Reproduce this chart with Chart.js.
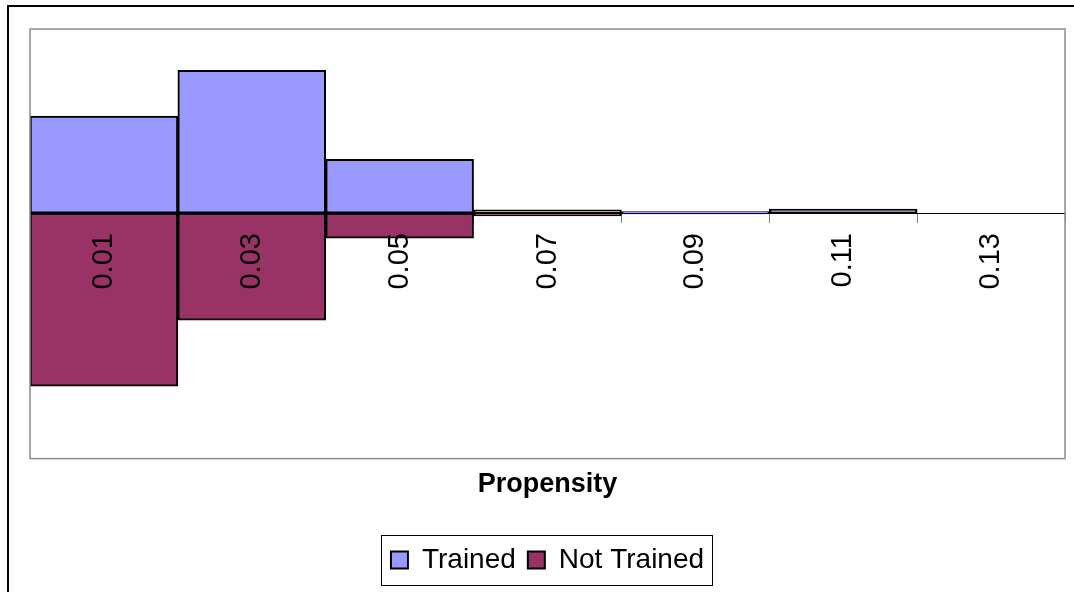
<!DOCTYPE html>
<html>
<head>
<meta charset="utf-8">
<script src="https://cdn.jsdelivr.net/npm/chart.js@4/dist/chart.umd.min.js"></script>
<style>
  html, body { margin: 0; padding: 0; background: #ffffff; }
  #wrap { width: 1074px; height: 592px; }
</style>
</head>
<body>
<div id="wrap"><canvas id="chart" width="1074" height="592"></canvas></div>
<script>
// Propensity bins and the share of each group falling in each bin
const categories = ['0.01', '0.03', '0.05', '0.07', '0.09', '0.11', '0.13'];
const trained    = [0.316, 0.465, 0.175, 0.011, 0.005, 0.013, 0];
// Not Trained is plotted downward (negative) for a back-to-back histogram
const notTrained = [-0.564, -0.349, -0.082, -0.009, -0.003, 0, 0];
const seriesNames = ['Trained', 'Not Trained'];
const axisTitle = 'Propensity';
const valueRange = [-0.8, 0.6];

const FONT = "'Liberation Sans', Arial, sans-serif";

// Frame around the whole figure, border of the plot area and the legend box
const framePlugin = {
  id: 'frame',
  beforeDraw(chart) {
    const ctx = chart.ctx;
    ctx.save();
    ctx.fillStyle = '#ffffff';
    ctx.fillRect(0, 0, chart.width, chart.height);
    ctx.strokeStyle = '#000000';
    ctx.lineWidth = 2;
    ctx.beginPath();
    ctx.moveTo(8, chart.height);
    ctx.lineTo(8, 6);
    ctx.lineTo(chart.width, 6);
    ctx.stroke();
    ctx.restore();
  },
  afterDraw(chart) {
    const ctx = chart.ctx;
    const a = chart.chartArea;
    ctx.save();
    ctx.strokeStyle = '#8c8c8c';
    ctx.lineWidth = 1.5;
    ctx.strokeRect(a.left, a.top, a.right - a.left, a.bottom - a.top);

    const boxes = chart.legend && chart.legend.legendHitBoxes;
    if (boxes && boxes.length) {
      let minX = Infinity, maxX = -Infinity, minY = Infinity, maxY = -Infinity;
      boxes.forEach(b => {
        minX = Math.min(minX, b.left);
        maxX = Math.max(maxX, b.left + b.width);
        minY = Math.min(minY, b.top);
        maxY = Math.max(maxY, b.top + b.height);
      });
      ctx.strokeStyle = '#000000';
      ctx.lineWidth = 1;
      ctx.strokeRect(Math.round(minX - 10) + 0.5, Math.round(minY - 11) + 0.5,
                     Math.round(maxX - minX + 18), Math.round(maxY - minY + 22));
    }
    ctx.restore();
  }
};

new Chart(document.getElementById('chart'), {
  type: 'bar',
  data: {
    labels: categories,
    datasets: [
      {
        label: seriesNames[0],
        data: trained,
        backgroundColor: '#9999ff',
        borderColor: '#000000',
        borderWidth: 2,
        borderSkipped: false,
        barPercentage: 1,
        categoryPercentage: 1
      },
      {
        label: seriesNames[1],
        data: notTrained,
        backgroundColor: '#993366',
        borderColor: '#000000',
        borderWidth: 2,
        borderSkipped: false,
        barPercentage: 1,
        categoryPercentage: 1
      }
    ]
  },
  options: {
    responsive: false,
    animation: false,
    layout: { padding: { left: 30, right: 9, top: 29, bottom: 8 } },
    scales: {
      x: {
        stacked: true,
        position: { y: 0 },
        grid: {
          offset: true,
          drawOnChartArea: false,
          drawTicks: true,
          tickLength: 9,
          color: '#808080',
          lineWidth: 1
        },
        border: { display: true, color: '#000000', width: 1, z: 1 },
        ticks: {
          z: 1,
          minRotation: 90,
          maxRotation: 90,
          padding: 11,
          color: '#000000',
          font: { family: FONT, size: 29 }
        }
      },
      y: {
        stacked: true,
        display: false,
        min: valueRange[0],
        max: valueRange[1]
      }
    },
    plugins: {
      tooltip: { enabled: false },
      title: {
        display: true,
        text: axisTitle,
        position: 'bottom',
        weight: 500,
        color: '#000000',
        font: { family: FONT, size: 27, weight: 'bold' },
        padding: { top: 10, bottom: 33 }
      },
      legend: {
        display: true,
        position: 'bottom',
        labels: {
          color: '#000000',
          font: { family: FONT, size: 28 },
          boxWidth: 17,
          boxHeight: 17,
          padding: 12
        }
      }
    }
  },
  plugins: [framePlugin]
});
</script>
</body>
</html>
